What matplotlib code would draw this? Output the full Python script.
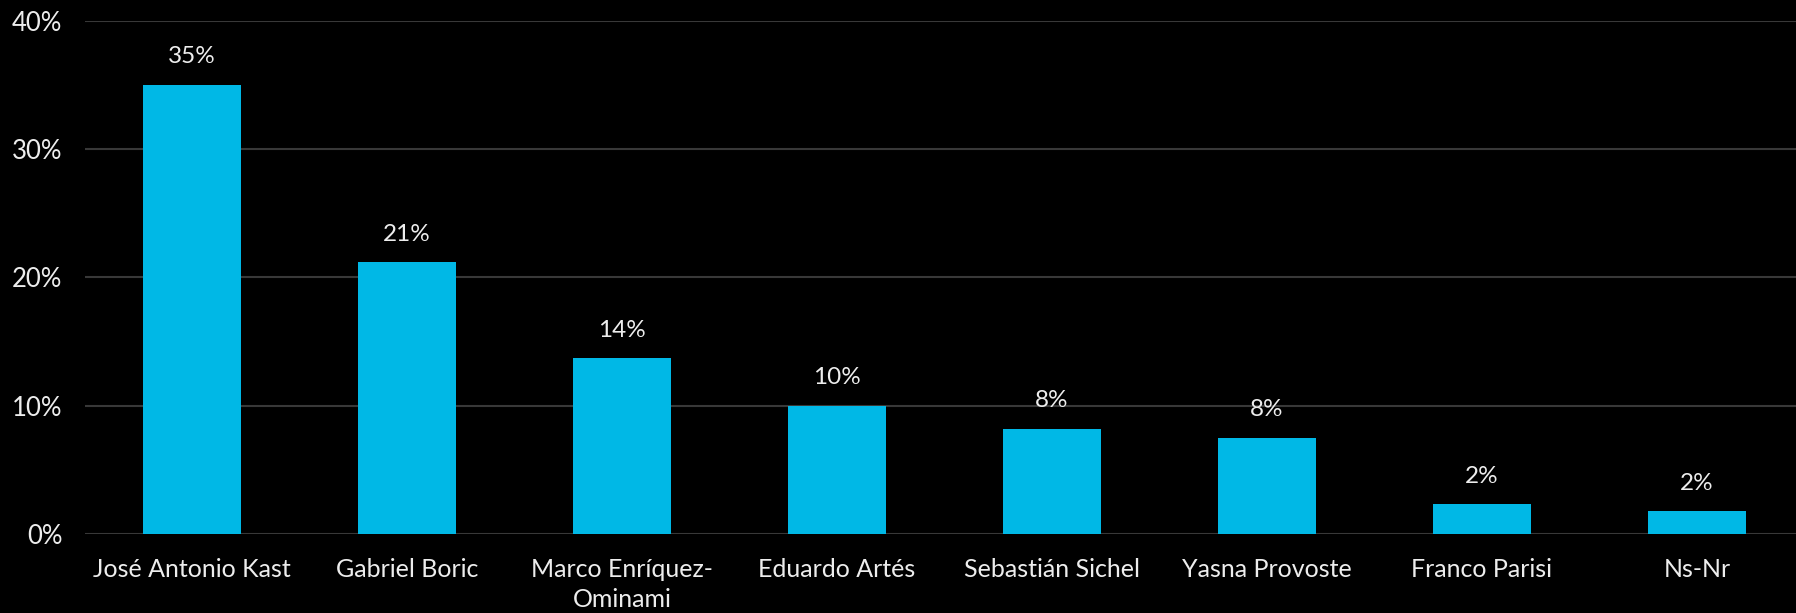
import matplotlib
matplotlib.use("Agg")
import matplotlib.pyplot as plt
from matplotlib.ticker import FuncFormatter

# Candidate support (%)
candidates = [
    "José Antonio Kast",
    "Gabriel Boric",
    "Marco Enríquez-\nOminami",
    "Eduardo Artés",
    "Sebastián Sichel",
    "Yasna Provoste",
    "Franco Parisi",
    "Ns-Nr",
]
support = [35.0, 21.2, 13.7, 10.0, 8.2, 7.5, 2.3, 1.8]
value_labels = ["35%", "21%", "14%", "10%", "8%", "8%", "2%", "2%"]
y_ticks = [0, 10, 20, 30, 40]

BAR_COLOR = "#00B8E6"
TEXT_COLOR = "#EDEDED"
GRID_COLOR = "#383838"

plt.rcParams["font.family"] = ["Lato", "DejaVu Sans"]

W, H = 1796, 613
fig = plt.figure(figsize=(W / 100, H / 100), dpi=100, facecolor="black")
ax = fig.add_axes([84.5 / W, 79 / H, 1720 / W, 513.4 / H], facecolor="black")

x = range(len(candidates))
ax.bar(x, support, width=0.453, color=BAR_COLOR, zorder=3)

for xi, v, lab in zip(x, support, value_labels):
    ax.annotate(lab, (xi, v), xytext=(0, 20), textcoords="offset points",
                ha="center", va="center", color=TEXT_COLOR, fontsize=17.5)

ax.set_xlim(-0.5, len(candidates) - 0.5)
ax.set_ylim(0, 40)
ax.set_yticks(y_ticks)
ax.yaxis.set_major_formatter(FuncFormatter(lambda v, _: f"{v:.0f}%"))
ax.set_xticks(list(x))
ax.set_xticklabels(candidates, linespacing=1.4)

ax.grid(axis="y", color=GRID_COLOR, linewidth=1.5, zorder=0)
ax.tick_params(axis="both", length=0, colors=TEXT_COLOR)
ax.tick_params(axis="y", pad=16, labelsize=18.5)
ax.tick_params(axis="x", pad=17, labelsize=18)
for s in ax.spines.values():
    s.set_visible(False)

fig.savefig("out.png", dpi=100, facecolor="black")
